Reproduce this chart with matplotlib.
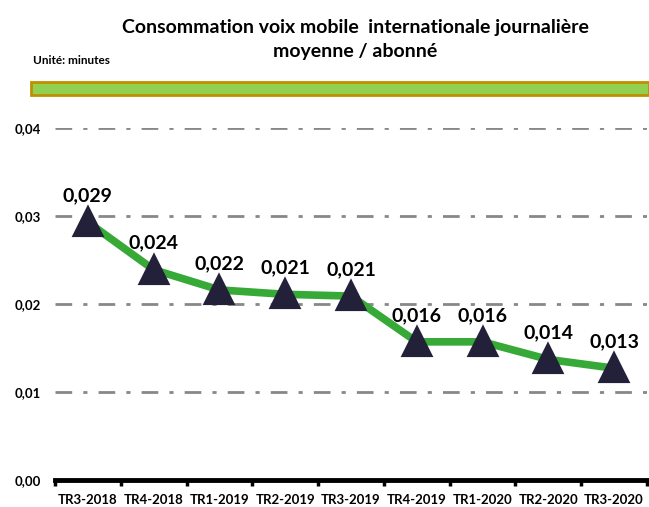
import numpy as np
import matplotlib
matplotlib.use("Agg")
import matplotlib.pyplot as plt
from matplotlib.patches import Rectangle

plt.rcParams['font.family'] = ['Lato', 'DejaVu Sans']

categories = ["TR3-2018", "TR4-2018", "TR1-2019", "TR2-2019", "TR3-2019",
              "TR4-2019", "TR1-2020", "TR2-2020", "TR3-2020"]
values = [0.0293, 0.0239, 0.0216, 0.0211, 0.0209, 0.0157, 0.0157, 0.0137, 0.0127]
labels = ["0,029", "0,024", "0,022", "0,021", "0,021", "0,016", "0,016", "0,014", "0,013"]
yticks = [0.0, 0.01, 0.02, 0.03, 0.04]
ytick_labels = ["0,00", "0,01", "0,02", "0,03", "0,04"]

W, H = 649, 507
fig = plt.figure(figsize=(W / 100, H / 100), dpi=100)
ax = fig.add_axes([55 / W, (H - 480) / H, (647 - 55) / W, (480 - 128) / H])

x = np.arange(len(categories))
ax.set_xlim(-0.5, len(categories) - 0.5)
ax.set_ylim(0, 0.04)

for yt in yticks[1:]:
    ax.axhline(yt, color="#888888", lw=2, linestyle=(0, (6, 4, 1.5, 4)), zorder=1)

ax.plot(x, values, color="#36A936", lw=5.5, zorder=2, solid_joinstyle="round")
ax.plot(x, values, linestyle="none", marker="^", markersize=19, color="#23213A",
        markeredgecolor="#23213A", markeredgewidth=3, zorder=3)

for xi, v, lab in zip(x, values, labels):
    ax.annotate(lab, (xi, v), xytext=(0, 13), textcoords="offset points",
                ha="center", va="bottom", fontsize=14, fontweight="bold")

for s in ["top", "right", "left"]:
    ax.spines[s].set_visible(False)
ax.spines["bottom"].set_linewidth(3.5)
ax.spines["bottom"].set_color("black")

ax.set_yticks(yticks)
ax.set_yticklabels(ytick_labels, fontsize=9.5, fontweight="bold")
ax.tick_params(axis="y", length=0, pad=10)

ax.set_xticks(np.arange(-0.5, len(categories), 1.0))
ax.set_xticklabels([])
ax.set_xticks(x, minor=True)
ax.set_xticklabels(categories, minor=True, fontsize=9.5, fontweight="bold")
ax.tick_params(axis="x", which="major", length=4, width=2.5, color="black")
ax.tick_params(axis="x", which="minor", length=0, pad=10)

fig.text(355 / W, 1 - 28 / H, "Consommation voix mobile  internationale journalière",
         ha="center", va="center", fontsize=14, fontweight="bold")
fig.text(355 / W, 1 - 51 / H, "moyenne / abonné",
         ha="center", va="center", fontsize=14, fontweight="bold")
fig.text(33 / W, 1 - 61 / H, "Unité: minutes", ha="left", va="center",
         fontsize=8.5, fontweight="bold")

fig.patches.append(Rectangle((31 / W, 1 - 95 / H), (W - 31) / W, 13 / H,
                             transform=fig.transFigure, facecolor="#92D050",
                             edgecolor="#BF8F00", linewidth=2))

fig.savefig("out.png", dpi=100)
